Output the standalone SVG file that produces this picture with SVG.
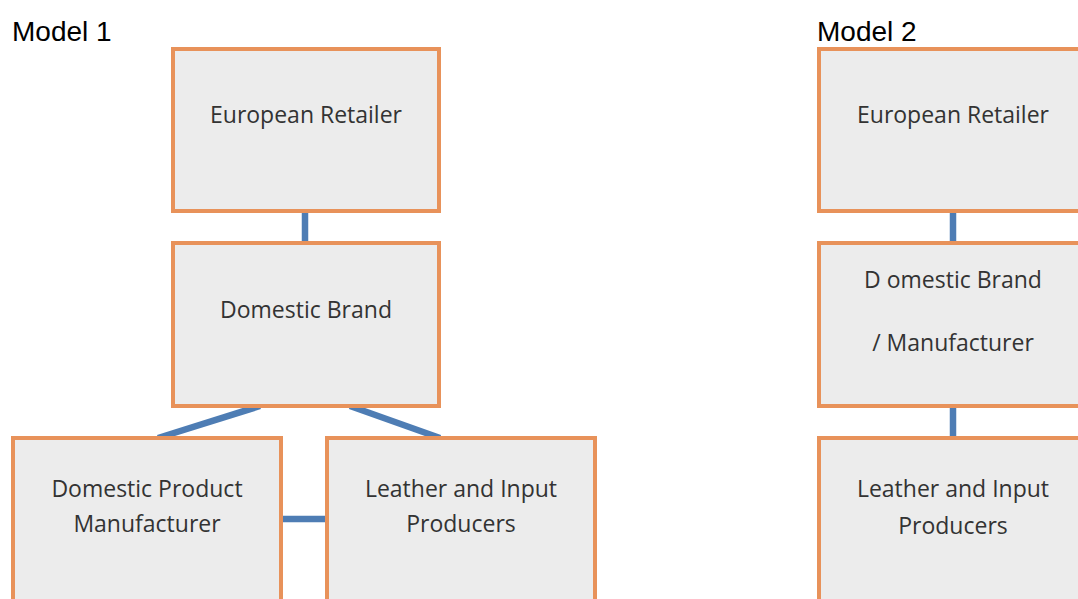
<svg xmlns="http://www.w3.org/2000/svg" width="1078" height="599" viewBox="0 0 1078 599">
<style>
.box{fill:#ECECEC;stroke:#E8925A;stroke-width:4}
.lbl{font-family:"Open Sans","Liberation Sans",sans-serif;font-size:23px;fill:#333;text-anchor:middle}
.title{font-family:"Liberation Sans",Arial,sans-serif;font-size:28px;fill:#000}
.con{stroke:#4E7DB4;stroke-width:6.5;fill:none}
</style>
<rect width="1078" height="599" fill="#fff"/>
<text class="title" x="12" y="41">Model 1</text>
<text class="title" x="817" y="41">Model 2</text>
<g id="connectors">
<line class="con" x1="305" y1="211" x2="305" y2="242"/>
<line class="con" x1="260" y1="406" x2="158" y2="438"/>
<line class="con" x1="350" y1="406" x2="440" y2="438"/>
<line class="con" x1="281" y1="519" x2="326" y2="519"/>
<line class="con" x1="953" y1="211" x2="953" y2="242"/>
<line class="con" x1="953" y1="406" x2="953" y2="438"/>
</g>
<g id="m1-retailer"><rect class="box" x="173" y="49" width="266" height="162"/><text class="lbl" x="306" y="123">European Retailer</text></g>
<g id="m1-brand"><rect class="box" x="173" y="243" width="266" height="163"/><text class="lbl" x="306" y="318">Domestic Brand</text></g>
<g id="m1-manufacturer"><rect class="box" x="13" y="438" width="268" height="175"/><text class="lbl" x="147" y="497">Domestic Product</text><text class="lbl" x="147" y="532">Manufacturer</text></g>
<g id="m1-leather"><rect class="box" x="327" y="438" width="268" height="175"/><text class="lbl" x="461" y="497">Leather and Input</text><text class="lbl" x="461" y="532">Producers</text></g>
<g id="m2-retailer"><rect class="box" x="819" y="49" width="268" height="162"/><text class="lbl" x="953" y="123">European Retailer</text></g>
<g id="m2-brand"><rect class="box" x="819" y="243" width="268" height="163"/><text class="lbl" x="953" y="288">D omestic Brand</text><text class="lbl" x="953" y="351">/ Manufacturer</text></g>
<g id="m2-leather"><rect class="box" x="819" y="438" width="268" height="175"/><text class="lbl" x="953" y="497">Leather and Input</text><text class="lbl" x="953" y="534">Producers</text></g>
</svg>
